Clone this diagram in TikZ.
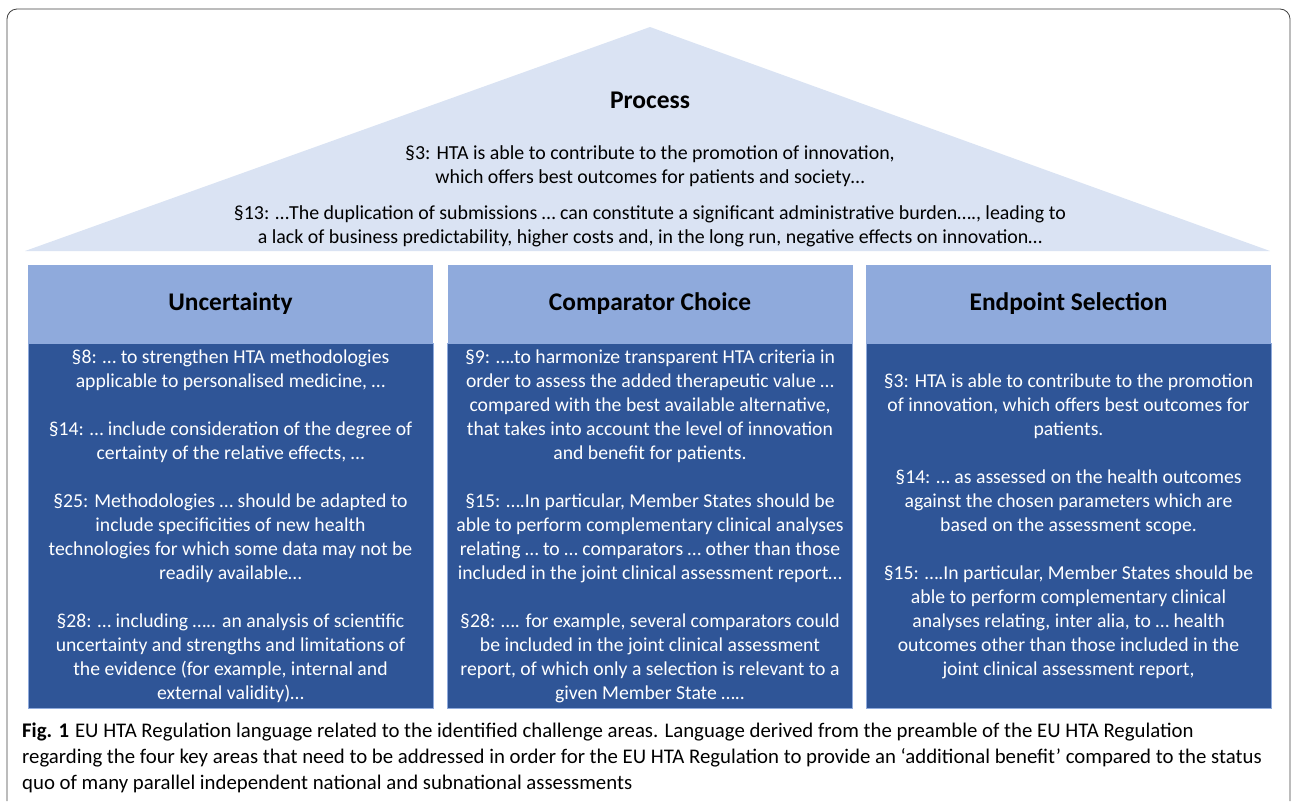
\documentclass[tikz,border=0pt]{standalone}
\usepackage{fontspec}
\setmainfont{Carlito}
\usetikzlibrary{positioning}
\definecolor{roofblue}{HTML}{DAE3F3}
\definecolor{headblue}{HTML}{8FAADC}
\definecolor{bodyblue}{HTML}{2F5597}
\tikzset{
  headbox/.style={rectangle,fill=headblue,minimum width=405pt,minimum height=78pt,inner sep=0pt,
    font=\fontsize{25.4}{30}\selectfont\bfseries},
  bodybox/.style={rectangle,fill=bodyblue,draw=headblue,line width=0.6pt,text=white,minimum width=405pt,
    minimum height=365pt,inner sep=0pt,align=center,font=\fontsize{19.7}{24}\selectfont},
  rooftext/.style={align=center,font=\fontsize{19.9}{24}\selectfont}
}

\begin{document}
\begin{tikzpicture}[x=1pt,y=-1pt]
  \useasboundingbox (0,0) rectangle (1292,801);
  % frame round the figure
  \draw[rounded corners=10pt,draw=black!75,line width=0.8pt] (7,801) -- (7,9) -- (1290,9) -- (1290,801);
  % roof
  \fill[roofblue] (25,251) -- (650,27) -- (1270,251) -- cycle;
  \node[font=\fontsize{25.5}{30}\selectfont\bfseries] (process) at (650,100) {Process};
  \node[rooftext] (roofa) at (650,166) {§3: HTA is able to contribute to the promotion of innovation,\\
    which offers best outcomes for patients and society…};
  \node[rooftext] (roofb) at (650,226) {§13: …The duplication of submissions … can constitute a significant administrative burden….,  leading to\\
    a lack of business predictability, higher costs and, in the long run, negative effects on innovation…};
  % pillars
  \node[headbox] (uncert) at (230.5,304) {Uncertainty};
  \node[headbox] (compar) at (650,304) {Comparator Choice};
  \node[headbox] (endpt) at (1068.5,304) {Endpoint Selection};
  \node[bodybox,below=0pt of uncert] (uncertbody) {§8: … to strengthen HTA methodologies\\
    applicable to personalised medicine, …\\[24pt]
    §14: … include consideration of the degree of\\
    certainty of the relative effects, …\\[24pt]
    §25: Methodologies … should be adapted to\\
    include specificities of new health\\
    technologies for which some data may not be\\
    readily available…\\[24pt]
    §28: … including ….. an analysis of scientific\\
    uncertainty and strengths and limitations of\\
    the evidence (for example, internal and\\
    external validity)…};
  \node[bodybox,below=0pt of compar] (comparbody) {§9: ….to harmonize transparent HTA criteria in\\
    order to assess the added therapeutic value …\\
    compared with the best available alternative,\\
    that takes into account the level of innovation\\
    and benefit for patients.\\[24pt]
    §15: ….In particular, Member States should be\\
    able to perform complementary clinical analyses\\
    relating … to … comparators … other than those\\
    included in the joint clinical assessment report…\\[24pt]
    §28: …. for example, several comparators could\\
    be included in the joint clinical assessment\\
    report, of which only a selection is relevant to a\\
    given Member State …..};
  \node[bodybox,below=0pt of endpt] (endptbody) {§3: HTA is able to contribute to the promotion\\
    of innovation, which offers best outcomes for\\
    patients.\\[24pt]
    §14: … as assessed on the health outcomes\\
    against the chosen parameters which are\\
    based on the assessment scope.\\[24pt]
    §15: ….In particular, Member States should be\\
    able to perform complementary clinical\\
    analyses relating, inter alia, to … health\\
    outcomes other than those included in the\\
    joint clinical assessment report,};
  % caption
  \node[anchor=west,align=left,inner sep=0pt,font=\fontsize{20.8}{26}\selectfont] (caption) at (22,758)
    {\textbf{Fig. 1}\hspace{6pt}EU HTA Regulation language related to the identified challenge areas. Language derived from the preamble of the EU HTA Regulation\\
    regarding the four key areas that need to be addressed in order for the EU HTA Regulation to provide an ‘additional benefit’ compared to the status\\
    quo of many parallel independent national and subnational assessments};
\end{tikzpicture}
\end{document}
